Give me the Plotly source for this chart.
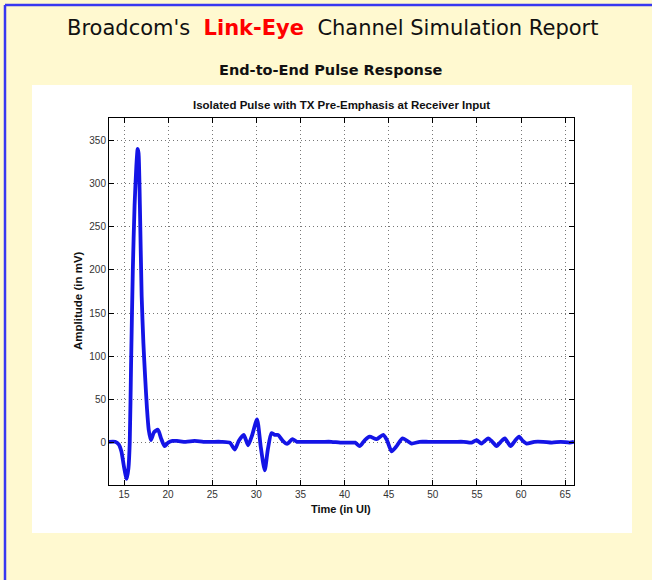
import plotly.graph_objects as go

# Pulse response samples (time in UI, amplitude in mV)
time_ui = [13.3, 14.0, 14.4, 14.7, 15.0, 15.3, 15.5, 15.65, 15.8, 16.0, 16.2, 16.4, 16.55, 16.65,
           16.8, 17.0, 17.2, 17.4, 17.6, 17.8, 18.05, 18.4, 18.85, 19.2, 19.6, 20.0, 20.5, 21, 22,
           23, 24, 25, 26, 27, 27.55, 28.0, 28.57, 29.06, 29.5, 30.08, 30.5, 30.95, 31.3, 31.71,
           32.1, 32.46, 33.0, 33.48, 34.09, 34.6, 35.5, 36.5, 37.5, 38.5, 39.5, 40.5, 41.2, 41.72,
           42.3, 42.85, 43.62, 44.37, 44.8, 45.32, 45.9, 46.57, 47.59, 48.5, 49.5, 50.5, 51.5,
           52.5, 53.5, 54.4, 54.95, 55.52, 56.27, 56.75, 57.22, 57.7, 58.16, 58.81, 59.3, 59.78,
           60.2, 60.62, 61.5, 62.5, 63.5, 64.5, 65.5, 66.0]
amplitude_mv = [1, 1, -2, -10, -28, -42, -30, 0, 90, 200, 275, 320, 340, 335,
                275, 170, 115, 75, 40, 15, 3, 12, 15, 5, -4, 0, 2, 2, 1,
                2, 1, 1, 1, 0, -8, 2, 9, -3, 8, 27, -5, -32, -8, 11,
                9, 9, 2, -1.5, 4, 1, 1, 1, 1, 1, 0, 0, 0, -4,
                3, 7, 4, 9, 3, -10, -4, 5, -1, 1, 1, 1, 1,
                1, 1, 0, 3, -1, 5, 1, -4, 1, 5, -4, 2, 7,
                2, -1, 1, 1, 0, 1, 0, 1]

x_ticks = [15, 20, 25, 30, 35, 40, 45, 50, 55, 60, 65]
y_ticks = [0, 50, 100, 150, 200, 250, 300, 350]

W, H = 652, 580
L, R, T, B = 109, 78, 118, 95
PW, PH = W - L - R, H - T - B


def px(x):
    return (x - L) / PW


def py(y):
    return (H - B - y) / PH


fig = go.Figure()
fig.add_trace(go.Scatter(
    x=time_ui, y=amplitude_mv, mode="lines",
    line=dict(color="#1414E6", width=3.8, shape="spline", smoothing=0.6),
    hoverinfo="skip", showlegend=False))

axis_common = dict(
    showline=True, linecolor="black", linewidth=1, mirror="ticks",
    ticks="inside", ticklen=5, tickcolor="black",
    showgrid=True, gridcolor="#777777", gridwidth=1, griddash="1px,3px",
    zeroline=False,
    tickfont=dict(family="Liberation Sans, Arial", size=10, color="#333333"),
)

fig.update_xaxes(range=[13.3, 66.0], tickvals=x_ticks, **axis_common)
fig.update_yaxes(range=[-49, 375.8], tickvals=y_ticks, **axis_common)

shapes = [
    # white panel
    dict(type="rect", xref="paper", yref="paper", x0=px(32), x1=px(632), y0=py(533), y1=py(85),
         fillcolor="white", line=dict(width=0), layer="below"),
    # blue border lines (top and left)
    dict(type="line", xref="paper", yref="paper", x0=px(5), x1=px(660), y0=py(5), y1=py(5),
         line=dict(color="#3838F0", width=2.5)),
    dict(type="line", xref="paper", yref="paper", x0=px(5), x1=px(5), y0=py(5), y1=py(590),
         line=dict(color="#3838F0", width=2.5)),
]

annotations = [
    dict(text="Broadcom's  <span style='color:#FF0000'><b>Link-Eye</b></span>  Channel Simulation Report",
         xref="paper", yref="paper", x=px(332), y=py(28), xanchor="center", yanchor="middle",
         showarrow=False, font=dict(family="DejaVu Sans", size=21, color="#111111")),
    dict(text="<b>End-to-End Pulse Response</b>",
         xref="paper", yref="paper", x=px(331), y=py(70), xanchor="center", yanchor="middle",
         showarrow=False, font=dict(family="DejaVu Sans", size=14.5, color="#111111")),
    dict(text="<b>Isolated Pulse with TX Pre-Emphasis at Receiver Input</b>",
         xref="paper", yref="paper", x=px(341), y=py(105), xanchor="center", yanchor="middle",
         showarrow=False, font=dict(family="Liberation Sans, Arial", size=11.5, color="#111111")),
    dict(text="<b>Time (in UI)</b>",
         xref="paper", yref="paper", x=px(341), y=py(509), xanchor="center", yanchor="middle",
         showarrow=False, font=dict(family="Liberation Sans, Arial", size=11, color="#111111")),
    dict(text="<b>Amplitude (in mV)</b>", textangle=-90,
         xref="paper", yref="paper", x=px(78), y=py(301), xanchor="center", yanchor="middle",
         showarrow=False, font=dict(family="Liberation Sans, Arial", size=11.5, color="#111111")),
]

fig.update_layout(
    width=W, height=H,
    margin=dict(l=L, r=R, t=T, b=B, pad=0),
    paper_bgcolor="#FFF9D0", plot_bgcolor="white",
    shapes=shapes, annotations=annotations,
)

fig.write_html("out.html", config={"displayModeBar": False},
               post_script="document.body.style.margin='0';document.body.style.overflow='hidden';")
